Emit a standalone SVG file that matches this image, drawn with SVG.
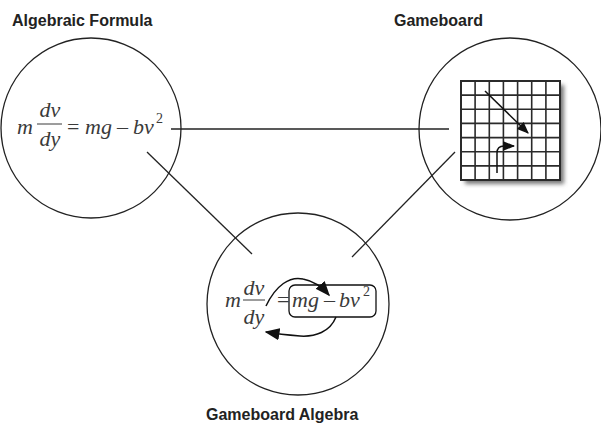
<svg xmlns="http://www.w3.org/2000/svg" width="601" height="430" viewBox="0 0 601 430">
<style>
.lbl{font-family:"Liberation Sans",Arial,sans-serif;font-weight:bold;font-size:16px;fill:#222}
.circ{fill:none;stroke:#222;stroke-width:1.3}
.conn{stroke:#222;stroke-width:1.3;fill:none}
.mi{font-family:"Liberation Serif","Times New Roman",serif;font-style:italic;font-size:22px;fill:#3a3a3a}
.mu{font-family:"Liberation Serif","Times New Roman",serif;font-size:22px;fill:#3a3a3a}
.sup{font-family:"Liberation Serif","Times New Roman",serif;font-size:14px;fill:#3a3a3a}
.bar{stroke:#3a3a3a;stroke-width:1}
.grid{stroke:#2a2a2a;stroke-width:1.6;fill:none}
.arr{stroke:#111;stroke-width:1.5;fill:none}
</style>
<defs>
<marker id="ah" viewBox="0 0 10 10" refX="9" refY="5" markerWidth="12" markerHeight="12" markerUnits="userSpaceOnUse" orient="auto"><path d="M0,1 L10,5 L0,9 Z" fill="#111"/></marker>
<marker id="ahb" viewBox="0 0 10 10" refX="9" refY="5" markerWidth="15" markerHeight="15" markerUnits="userSpaceOnUse" orient="auto"><path d="M0,1 L10,5 L0,9 Z" fill="#111"/></marker>
<filter id="blur" x="-20%" y="-20%" width="140%" height="140%"><feGaussianBlur stdDeviation="2"/></filter>
</defs>

<g id="connectors">
<line class="conn" x1="171" y1="129" x2="449" y2="129"/>
<line class="conn" x1="147" y1="152" x2="252" y2="254"/>
<line class="conn" x1="455" y1="152" x2="352" y2="257"/>
</g>

<g id="algebraic-formula">
<circle class="circ" cx="91" cy="128" r="90"/>
<text class="lbl" x="12" y="26">Algebraic Formula</text>
<text class="mi" x="17" y="134">m</text>
<text class="mi" x="50" y="117" text-anchor="middle">dv</text>
<line class="bar" x1="37" y1="124" x2="62" y2="124"/>
<text class="mi" x="50" y="146" text-anchor="middle">dy</text>
<text class="mu" x="67" y="134">=</text>
<text class="mi" x="85" y="134">mg</text>
<text class="mu" x="117" y="134">–</text>
<text class="mi" x="133" y="134">bv</text>
<text class="sup" x="156" y="123">2</text>
</g>

<g id="gameboard">
<circle class="circ" cx="510" cy="129" r="91"/>
<text class="lbl" x="394" y="26">Gameboard</text>
<rect x="465" y="85" width="99" height="99" fill="#777" filter="url(#blur)"/>
<rect x="461" y="81" width="99" height="99" fill="#fff"/>
<g class="grid">
<rect x="461" y="81" width="99" height="99" stroke-width="2"/>
<path d="M475.1,81V180M489.3,81V180M503.4,81V180M517.6,81V180M531.7,81V180M545.9,81V180M461,95.1H560M461,109.3H560M461,123.4H560M461,137.6H560M461,151.7H560M461,165.9H560"/>
</g>
<line class="arr" x1="485" y1="91" x2="528" y2="133" marker-end="url(#ah)"/>
<path class="arr" d="M497,173 L497,153 Q497,146 504,146 L514,146" marker-end="url(#ah)"/>
</g>

<g id="gameboard-algebra">
<circle class="circ" cx="298" cy="304" r="91"/>
<text class="lbl" x="206" y="420">Gameboard Algebra</text>
<text class="mi" x="225" y="307">m</text>
<text class="mi" x="254" y="295" text-anchor="middle">dv</text>
<line class="bar" x1="243" y1="300" x2="265" y2="300"/>
<text class="mi" x="254" y="324" text-anchor="middle">dy</text>
<text class="mu" x="277" y="307">=</text>
<rect x="289" y="285" width="87" height="32" rx="6" fill="none" stroke="#111" stroke-width="1.3"/>
<text class="mi" x="292" y="307">mg</text>
<text class="mu" x="324" y="307">–</text>
<text class="mi" x="339" y="307">bv</text>
<text class="sup" x="363" y="296">2</text>
<path class="arr" d="M266,306 C276,285 290,276 303,279 C314,281 322,287 329,295" marker-end="url(#ahb)"/>
<path class="arr" d="M336,317 C330,332 315,337 300,336 C288,335 278,334 266,332" marker-end="url(#ahb)"/>
</g>
</svg>
